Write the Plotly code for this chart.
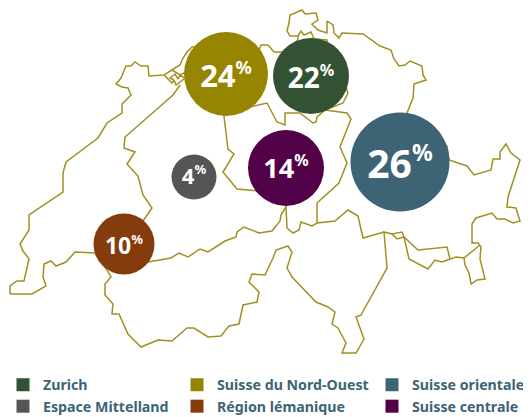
import plotly.graph_objects as go

regions = ["Zurich", "Suisse du Nord-Ouest", "Suisse orientale",
           "Espace Mittelland", "Région lémanique", "Suisse centrale"]
shares = [22, 24, 26, 4, 10, 14]
colors = ["#335233", "#968500", "#3c6475", "#555555", "#843c0c", "#520047"]
bubble_x = [311, 226, 400, 194, 124, 286]
bubble_y = [76, 74, 162, 177, 244, 168]
bubble_d = [76, 84, 99, 45, 61, 76]
num_size = [28, 31, 39, 22, 23, 27]
label_shift = [5, 5, 6, 1, 4, 3]
legend_slot = ["legend", "legend2", "legend3", "legend", "legend2", "legend3"]

border = [(10,294),(10,286),(17,281),(24,281),(29,259),(23,251),(20,244),(29,230),(29,215),(63,192),
 (63,173),(66,162),(82,150),(98,138),(107,123),(122,113),(122,104),(131,95),(128,88),(122,87),(116,84),
 (121,78),(126,66),(131,66),(135,62),(141,66),(148,66),(149,76),(164,75),(172,70),(180,65),(183,58),
 (187,52),(192,47),(225,45),(259,50),(261,45),(268,45),(274,52),(282,52),(298,40),(298,36),(290,36),(287,31),(289,23),(290,15),
 (302,10),(305,14),(316,13),(318,20),(312,24),(318,30),(327,33),(327,21),(333,25),(334,33),(339,38),
 (342,33),(363,34),(380,46),(391,50),(394,59),(399,66),(405,65),(410,61),(422,66),(423,75),(426,80),
 (414,84),(413,98),(407,113),(430,130),(447,146),(449,160),(467,166),(474,175),(491,170),(493,159),(500,159),
 (500,152),(506,144),(511,153),(520,160),(508,197),(507,207),(516,208),(520,221),(513,223),(505,219),
 (497,219),(492,213),(476,218),(472,224),(472,243),(478,243),(481,247),(480,259),(485,279),(477,280),
 (471,284),(469,273),(465,265),(464,258),(456,257),(450,259),(442,262),(435,260),(428,269),(409,259),
 (404,237),(397,239),(392,234),(384,232),(387,268),(361,315),(356,317),(364,339),(356,353),(342,353),
 (346,343),(338,328),(332,324),(335,312),(328,307),(316,302),(292,277),(287,268),(292,252),(288,246),
 (276,250),(273,258),(265,275),(252,274),(249,282),(259,292),(257,302),(243,305),(239,324),(229,326),
 (221,336),(208,337),(194,328),(187,328),(172,341),(158,340),(141,347),(128,334),(119,314),(112,314),
 (113,304),(105,295),(105,284),(111,277),(107,270),(95,253),(75,252),(66,262),(56,266),(51,261),(44,264),
 (43,277),(46,286),(32,294),(10,294)]
south_line = [(95,253),(148,262),(171,258),(179,253),(188,257),(200,249),(208,252),(225,241),(236,237),
 (237,232),(244,227),(259,233),(272,231),(280,221),(281,215),(286,207)]
central_line = [(286,168),(286,207),(287,228),(293,233),(299,230),(301,222),(312,226),(317,223),(335,221),
 (348,210),(358,216),(363,238),(384,232)]
east_line = [(317,223),(317,203),(339,183),(347,163),(340,147),(348,128),(351,119),(347,113),(325,110),
 (317,117),(316,122),(313,123),(300,113),(285,113),(285,125),(277,122),(267,103),(250,107)]
north_line = [(325,110),(343,103),(348,93),(345,85),(340,70)]
mid_line = [(222,100),(228,149),(234,154),(223,172),(237,189),(255,191),(270,192)]
jura_line = [(180,85),(173,95),(125,137),(124,148),(135,152),(127,164),(138,176),(143,195),(152,208),(143,221),(130,235)]
basel_a = [(164,75),(172,83),(174,80),(176,85),(180,82),(185,78),(180,75),(178,79),(175,74),(170,78),(174,80)]
basel_b = [(172,70),(180,75),(190,70)]
ticino_a = [(404,237),(418,250),(447,247),(450,259)]
ticino_b = [(392,234),(402,232),(404,237)]
ticino_c = [(464,258),(480,245)]
north_top = [(298,36),(301,31),(304,35),(311,32),(314,39),(327,40),(330,50)]
paths = [border, south_line, central_line, east_line, north_line, mid_line, jura_line,
         basel_a, basel_b, ticino_a, ticino_b, ticino_c, north_top]

fig = go.Figure()
for path in paths:
    fig.add_trace(go.Scatter(x=[p[0] for p in path], y=[p[1] for p in path], mode="lines",
                             line=dict(color="#a09020", width=1.5), showlegend=False, hoverinfo="skip"))

for i, name in enumerate(regions):
    fig.add_trace(go.Scatter(
        x=[bubble_x[i]], y=[bubble_y[i]], mode="markers", name=name,
        marker=dict(size=bubble_d[i], color=colors[i], line=dict(width=0)),
        showlegend=False))

for i, name in enumerate(regions):
    pct = round(num_size[i] * 0.58)
    fig.add_trace(go.Scatter(
        x=[bubble_x[i]], y=[bubble_y[i] + label_shift[i]], mode="text",
        text=[f'{shares[i]}<sup><span style="font-size:{pct}px">%</span></sup>'],
        textposition="middle center", hoverinfo="skip",
        textfont=dict(family="Noto Sans", size=num_size[i], color="white", weight="bold"),
        showlegend=False))

for i, name in enumerate(regions):
    fig.add_trace(go.Scatter(
        x=[None], y=[None], mode="markers", name=name, legend=legend_slot[i],
        marker=dict(size=13, symbol="square", color=colors[i])))

def legend_box(left_px):
    return dict(orientation="v", x=(left_px - 8) / 523, y=1 - (369 - 8) / 409,
                xanchor="left", yanchor="top", traceorder="normal", itemwidth=30,
                font=dict(family="Noto Sans", size=14.2, color="#3c6475", weight="bold"),
                bgcolor="rgba(0,0,0,0)", borderwidth=0)

fig.update_layout(
    width=523, height=409, margin=dict(l=0, r=0, t=0, b=0, autoexpand=False),
    paper_bgcolor="white", plot_bgcolor="white",
    xaxis=dict(range=[8, 531], visible=False, domain=[0, 1]),
    yaxis=dict(range=[417, 8], visible=False, domain=[0, 1]),
    legend=legend_box(3), legend2=legend_box(177), legend3=legend_box(372),
)
fig.write_html("out.html", config=dict(displayModeBar=False))
